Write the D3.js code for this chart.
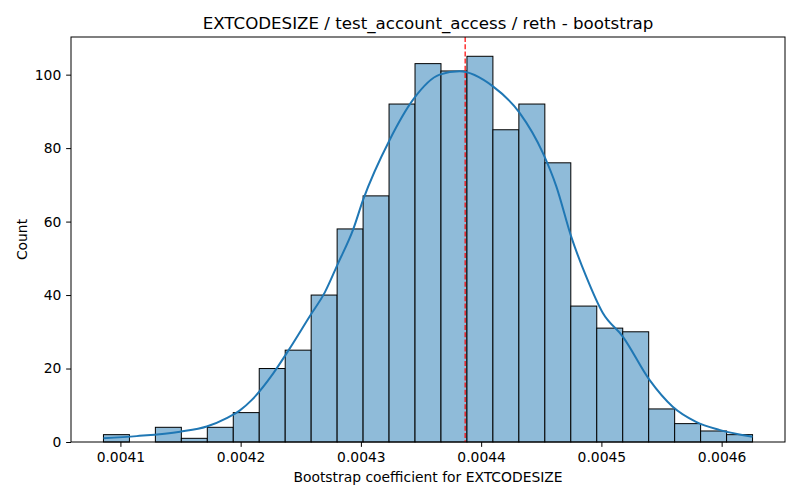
<!DOCTYPE html>
<html>
<head>
<meta charset="utf-8">
<script src="https://cdn.jsdelivr.net/npm/d3@7"></script>
<style>
body { margin: 0; background: #fff; }
svg { display: block; font-family: "DejaVu Sans", sans-serif; }
</style>
</head>
<body>
<div id="chart"></div>
<script>
// Histogram data
const binMin = 0.0040859;
const binMax = 0.0046257;
const counts = [2, 0, 4, 1, 4, 8, 20, 25, 40, 58, 67, 92, 103, 101, 105, 85, 92, 76, 37, 31, 30, 9, 5, 3, 2];
// KDE curve (x in coefficient units, y in counts)
const kdeX = [0.0040859, 0.0041136, 0.0041496, 0.0041718, 0.0041884, 0.0041994, 0.0042091, 0.0042271, 0.0042395, 0.0042576, 0.0042701, 0.0042811, 0.0042935, 0.0043018, 0.004324, 0.0043434, 0.0043655, 0.0043821, 0.0044098, 0.004432, 0.0044513, 0.0044625, 0.0044749, 0.0044874, 0.0045012, 0.0045178, 0.00454, 0.0045593, 0.0045787, 0.0045981, 0.0046257];
const kdeY = [1.0, 1.6, 2.8, 4.2, 6.5, 8.6, 11.4, 18.7, 24.8, 34.3, 40.8, 48.7, 57.8, 65.9, 82.3, 93.2, 100.0, 100.9, 96.8, 89.6, 78.7, 69.6, 55.9, 45.0, 35.1, 28.7, 16.9, 9.6, 5.5, 3.3, 1.4];
const meanValue = 0.0043867;
const xTicks = [0.0041, 0.0042, 0.0043, 0.0044, 0.0045, 0.0046];
const yTicks = [0, 20, 40, 60, 80, 100];
const titleText = "EXTCODESIZE / test_account_access / reth - bootstrap";
const xLabel = "Bootstrap coefficient for EXTCODESIZE";
const yLabel = "Count";

const W = 800, H = 500;
const m = { left: 71, right: 15, top: 37, bottom: 58 };
const pw = W - m.left - m.right, ph = H - m.top - m.bottom;

const span = binMax - binMin;
const x = d3.scaleLinear().domain([binMin - 0.05 * span, binMax + 0.05 * span]).range([0, pw]);
const y = d3.scaleLinear().domain([0, d3.max(counts) * 1.05]).range([ph, 0]);

const svg = d3.select("#chart").append("svg").attr("width", W).attr("height", H);
const g = svg.append("g").attr("transform", `translate(${m.left},${m.top})`);

const bw = span / counts.length;
const bins = counts.map((c, i) => ({ x0: binMin + i * bw, x1: binMin + (i + 1) * bw, c }));

g.selectAll("rect.bar").data(bins).enter().append("rect")
  .attr("class", "bar")
  .attr("x", d => x(d.x0))
  .attr("width", d => x(d.x1) - x(d.x0))
  .attr("y", d => y(d.c))
  .attr("height", d => y(0) - y(d.c))
  .attr("fill", "#8fbbd9")
  .attr("stroke", "#000")
  .attr("stroke-width", 1);

const kde = kdeX.map((v, i) => [v, kdeY[i]]);
g.append("path").datum(kde)
  .attr("fill", "none")
  .attr("stroke", "#1f77b4")
  .attr("stroke-width", 2)
  .attr("d", d3.line().x(d => x(d[0])).y(d => y(d[1])).curve(d3.curveMonotoneX));

g.append("line")
  .attr("x1", x(meanValue)).attr("x2", x(meanValue))
  .attr("y1", 0).attr("y2", ph)
  .attr("stroke", "#ff0000").attr("stroke-width", 1.2)
  .attr("stroke-dasharray", "5,2.2");

const xAxis = g.append("g").attr("transform", `translate(0,${ph})`)
  .call(d3.axisBottom(x).tickValues(xTicks).tickFormat(d3.format(".4f")).tickSize(4.86).tickPadding(4.86));
const yAxis = g.append("g")
  .call(d3.axisLeft(y).tickValues(yTicks).tickSize(4.86).tickPadding(4.86));
[xAxis, yAxis].forEach(a => {
  a.selectAll("text").attr("font-size", "13.89px").attr("fill", "#000").attr("font-family", "DejaVu Sans");
  a.selectAll("line").attr("stroke", "#000").attr("stroke-width", 1);
  a.select(".domain").remove();
});

g.append("rect").attr("x", 0).attr("y", 0).attr("width", pw).attr("height", ph)
  .attr("fill", "none").attr("stroke", "#000").attr("stroke-width", 1);

svg.append("text").attr("x", m.left + pw / 2).attr("y", 29)
  .attr("text-anchor", "middle").attr("font-size", "16.67px").text(titleText);
svg.append("text").attr("x", m.left + pw / 2).attr("y", 482)
  .attr("text-anchor", "middle").attr("font-size", "13.89px").text(xLabel);
svg.append("text").attr("transform", `translate(26.5,${m.top + ph / 2}) rotate(-90)`)
  .attr("text-anchor", "middle").attr("font-size", "13.89px").text(yLabel);
</script>
</body>
</html>
